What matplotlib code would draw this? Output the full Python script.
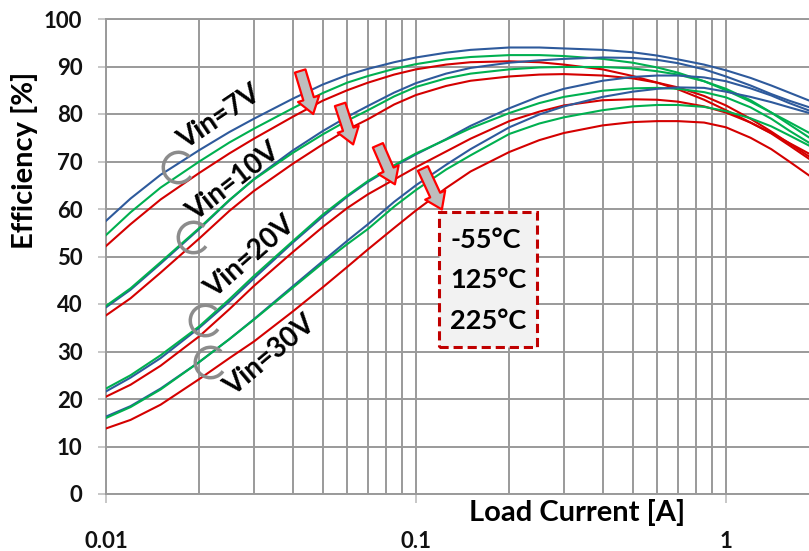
import numpy as np
import matplotlib
matplotlib.use("Agg")
import matplotlib.pyplot as plt
from matplotlib.path import Path
from matplotlib.patches import Rectangle
from matplotlib.ticker import LogLocator, NullFormatter

plt.rcParams["font.family"] = ["Lato", "DejaVu Sans"]

# Load current sample points [A]
current_a = [0.01, 0.012, 0.015, 0.02, 0.025, 0.03, 0.04, 0.05, 0.06, 0.07, 0.085, 0.1, 0.125,
             0.15, 0.2, 0.25, 0.3, 0.4, 0.5, 0.6, 0.7, 0.85, 1.0, 1.2, 1.4, 1.6, 1.86]

# Efficiency [%] per input voltage and temperature (-55C, 125C, 225C)
eff_7v_m55 = [57.5, 62.2, 67.2, 72.4, 76.2, 79.0, 83.2, 86.2, 88.2, 89.5, 90.9, 91.9, 92.9,
              93.5, 94.0, 94.0, 93.8, 93.5, 93.0, 92.3, 91.5, 90.4, 89.2, 87.6, 86.0, 84.5, 82.8]
eff_7v_125 = [54.5, 59.3, 64.5, 70.0, 74.0, 76.9, 81.2, 84.4, 86.6, 88.0, 89.5, 90.5, 91.5,
              92.0, 92.4, 92.4, 92.2, 91.6, 90.8, 89.8, 88.7, 86.9, 85.0, 82.6, 80.3, 78.3, 76.0]
eff_7v_225 = [52.2, 56.8, 62.0, 67.6, 71.7, 74.8, 79.4, 82.8, 85.0, 86.6, 88.3, 89.4, 90.4,
              90.9, 91.1, 90.9, 90.4, 89.4, 88.0, 86.6, 85.2, 83.0, 80.8, 78.2, 76.0, 73.9, 71.6]

eff_10v_m55 = [39.3, 43.0, 48.5, 55.8, 61.8, 66.3, 72.3, 76.4, 79.4, 81.7, 84.5, 86.5, 88.5,
               89.7, 90.8, 91.3, 91.6, 91.9, 91.8, 91.4, 90.7, 89.4, 87.9, 86.0, 84.2, 82.8, 81.4]
eff_10v_125 = [39.6, 43.3, 48.8, 56.0, 61.9, 66.2, 71.8, 75.7, 78.6, 80.8, 83.7, 85.7, 87.5,
               88.5, 89.4, 89.8, 89.9, 89.9, 89.6, 89.0, 88.3, 86.9, 85.3, 82.9, 80.3, 77.8, 75.0]
eff_10v_225 = [37.6, 41.2, 46.6, 53.8, 59.6, 63.8, 69.5, 73.6, 76.7, 78.9, 82.0, 84.0, 85.9,
               87.0, 87.9, 88.3, 88.4, 88.1, 87.5, 86.6, 85.6, 83.8, 81.8, 79.0, 76.3, 73.8, 71.0]

eff_20v_m55 = [21.6, 24.5, 28.6, 35.0, 40.5, 45.4, 52.9, 58.4, 62.6, 65.7, 69.0, 71.5, 74.7,
               77.5, 81.2, 83.7, 85.3, 87.0, 87.8, 88.1, 88.1, 87.7, 86.9, 85.4, 83.9, 82.3, 80.7]
eff_20v_125 = [22.2, 25.0, 29.2, 35.3, 41.0, 45.9, 53.2, 58.8, 62.8, 65.9, 69.2, 71.7, 74.6,
               77.0, 80.2, 82.3, 83.6, 84.9, 85.4, 85.5, 85.3, 84.6, 83.5, 81.4, 79.0, 76.5, 73.9]
eff_20v_225 = [20.5, 23.0, 27.0, 33.2, 38.9, 43.8, 50.9, 56.2, 60.2, 63.1, 66.2, 68.8, 72.1,
               74.8, 78.5, 80.5, 81.8, 82.9, 83.1, 83.0, 82.6, 81.6, 80.3, 78.2, 75.9, 73.4, 70.5]

eff_30v_m55 = [16.3, 18.5, 22.2, 27.8, 32.6, 36.8, 43.7, 49.0, 53.3, 56.8, 61.5, 65.0, 69.3,
               72.6, 77.2, 79.9, 81.6, 83.6, 84.7, 85.3, 85.6, 85.5, 84.7, 83.6, 82.5, 81.4, 80.2]
eff_30v_125 = [16.0, 18.3, 22.0, 27.8, 32.6, 36.7, 43.4, 48.6, 52.6, 55.8, 60.5, 64.0, 68.3,
               71.3, 75.8, 78.0, 79.3, 80.8, 81.6, 81.9, 81.9, 81.5, 80.6, 79.1, 77.4, 75.5, 73.3]
eff_30v_225 = [13.8, 15.6, 18.8, 24.2, 28.6, 32.1, 38.4, 43.5, 47.8, 51.5, 56.0, 59.7, 64.4,
               67.9, 72.0, 74.5, 76.0, 77.6, 78.3, 78.5, 78.5, 78.2, 77.2, 75.0, 72.6, 70.0, 67.0]

temp_labels = ["-55°C", "125°C", "225°C"]
vin_labels = ["Vin=7V", "Vin=10V", "Vin=20V", "Vin=30V"]

curves = {
    "Vin=7V": [eff_7v_m55, eff_7v_125, eff_7v_225],
    "Vin=10V": [eff_10v_m55, eff_10v_125, eff_10v_225],
    "Vin=20V": [eff_20v_m55, eff_20v_125, eff_20v_225],
    "Vin=30V": [eff_30v_m55, eff_30v_125, eff_30v_225],
}

# styling / annotation placement
TEMP_COLORS = ["#2e5a9c", "#00b050", "#d40000"]
GRID_COLOR = "#9a9a9a"
vin_text_pos = [(0.0233, 79.3, 34), (0.0257, 65.8, 38), (0.0291, 49.8, 41), (0.0338, 29.1, 40)]
bracket_pos = [(0.0171, 68.8), (0.0191, 54.2), (0.0209, 36.7), (0.0217, 27.8)]
arrow_tips = [(0.0466, 80.0), (0.0627, 73.6), (0.0855, 65.2), (0.1212, 59.9)]
arrow_offsets = [(-13, 43), (-13, 40), (-17, 39), (-19, 41)]

W, H = 809, 551
fig = plt.figure(figsize=(W / 100, H / 100), dpi=100)
ax = fig.add_axes([106 / W, (H - 494) / H, (W - 106) / W, (494 - 19) / H])

for vin in vin_labels:
    for eff, color in zip(curves[vin], TEMP_COLORS):
        ax.plot(current_a, eff, color=color, lw=1.5, zorder=3)

ax.set_xscale("log")
ax.set_xlim(0.01, 1.853)
ax.set_ylim(0, 100)

ax.set_xticks([0.01, 0.1, 1], ["0.01", "0.1", "1"], fontsize=16, fontweight="bold", color="#111111")
ax.xaxis.set_minor_locator(LogLocator(base=10, subs=np.arange(2, 10)))
ax.xaxis.set_minor_formatter(NullFormatter())
ax.set_yticks(np.arange(0, 101, 10), [str(v) for v in range(0, 101, 10)],
              fontsize=16, fontweight="bold", color="#111111")

ax.set_axisbelow(True)
ax.grid(True, which="both", axis="x", color=GRID_COLOR, lw=1.4)
ax.grid(True, which="major", axis="y", color=GRID_COLOR, lw=1.4)
for side in ["left", "top", "bottom"]:
    ax.spines[side].set_color(GRID_COLOR)
    ax.spines[side].set_linewidth(1.4)
ax.spines["right"].set_visible(False)

ax.tick_params(axis="y", length=6, width=1.2, color="#bdbdbd", pad=11)
ax.tick_params(axis="x", which="major", length=6.5, width=1.2, color="#bdbdbd", pad=20)
ax.tick_params(axis="x", which="minor", length=0)

fig.text(577 / W, 1 - 512 / H, "Load Current [A]", fontsize=21, fontweight="bold",
         ha="center", va="center")
fig.text(25 / W, 1 - 160 / H, "Efficiency [%]", fontsize=21, fontweight="bold",
         ha="center", va="center", rotation=90)

# Vin labels and grey brackets grouping each set of curves
arc = Path.arc(45, 325)
for label, (x, y, rot) in zip(vin_labels, vin_text_pos):
    ax.text(x, y, label, fontsize=20, fontweight="bold", rotation=rot,
            rotation_mode="anchor", ha="center", va="center", zorder=5)
for x, y in bracket_pos:
    ax.plot([x], [y], marker=arc, ms=22, mfc="none", mec="#8c8c8c", mew=2.5, zorder=4)

# temperature arrows
for (x, y), (dx, dy) in zip(arrow_tips, arrow_offsets):
    ax.annotate("", xy=(x, y), xytext=(dx, dy), textcoords="offset pixels",
                arrowprops=dict(arrowstyle="simple,head_length=0.52,head_width=0.72,tail_width=0.36",
                                mutation_scale=22, fc="#bebebe", ec="#ff0000", lw=1.6,
                                shrinkA=0, shrinkB=0),
                zorder=6)

# legend box with temperatures
box = Rectangle(((439 - 106) / 703, (494 - 347) / 475), 98 / 703, 135 / 475,
                transform=ax.transAxes, fc="#f2f2f2", ec="#c00000", lw=2.2,
                ls=(0, (3, 1.6)), zorder=7)
ax.add_patch(box)
for i, t in enumerate(temp_labels):
    ax.text((450 - 106) / 703, (494 - (240 + 40.5 * i)) / 475, t, transform=ax.transAxes,
            fontsize=19.5, fontweight="bold", ha="left", va="center", zorder=8)

fig.savefig("out.png", dpi=100)
